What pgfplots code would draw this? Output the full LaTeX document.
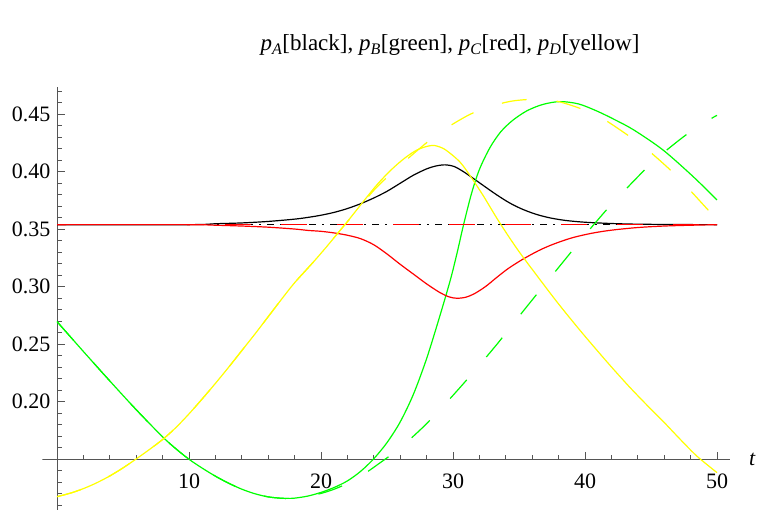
\documentclass[border=0pt]{standalone}
\usepackage{fontspec}
\setmainfont{Liberation Serif}
\usepackage{pgfplots}
\pgfplotsset{compat=1.18}

\definecolor{axgray}{RGB}{85,85,85}
\definecolor{pgreen}{rgb}{0,1,0}
\definecolor{pred}{rgb}{1,0,0}
\definecolor{pyellow}{rgb}{1,1,0}

\begin{document}
\begin{tikzpicture}
\useasboundingbox (-42.5pt,0pt) rectangle (714.5pt,510pt);
\begin{axis}[
    at={(0pt,0pt)}, anchor=south west,
    scale only axis, width=687.7pt, height=423pt,
    xmin=-1.1, xmax=51, ymin=0.1059, ymax=0.4737,
    axis y line=middle, axis x line=none,
    y axis line style={-, axgray, line width=0.8pt},
    xtick=\empty,
    ytick={0.20,0.25,0.30,0.35,0.40,0.45},
    minor ytick={0.11,0.12,0.13,0.14,0.16,0.17,0.18,0.19,0.21,0.22,0.23,0.24,0.26,0.27,0.28,0.29,0.31,0.32,0.33,0.34,0.36,0.37,0.38,0.39,0.41,0.42,0.43,0.44,0.46,0.47},
    tick align=inside,
    major tick length=7.7pt, minor tick length=4.5pt,
    tick style={axgray, line width=0.8pt},
    yticklabel style={font=\fontsize{22}{26}\selectfont, anchor=east, xshift=-3pt},
    every axis plot/.append style={line width=1.2pt},
    /pgf/number format/.cd, fixed, fixed zerofill, precision=2, assume math mode=true,
]
% x axis at 0.15 with its ticks
\draw[axgray, line width=0.8pt] (axis cs:-1.1,0.15) -- (axis cs:51,0.15);
\pgfplotsinvokeforeach{2,4,6,8,12,14,16,18,22,24,26,28,32,34,36,38,42,44,46,48}{
    \draw[axgray, line width=0.8pt] (axis cs:#1,0.15) -- ++(0pt,4.5pt);
}
\pgfplotsinvokeforeach{10,20,30,40,50}{
    \draw[axgray, line width=0.8pt] (axis cs:#1,0.15) -- ++(0pt,7.7pt);
    \node[anchor=base, font=\fontsize{22}{26}\selectfont] at (axis cs:#1,0.125) {#1};
}

% p_A
\addplot[black, smooth] coordinates {
    (0,0.354) (10,0.354) (12,0.3548) (14,0.3555) (16,0.3568) (18,0.3588)
    (19,0.3603) (20,0.3622) (21,0.3647) (22,0.368) (23,0.3722) (24,0.3772)
    (25,0.383) (26,0.39) (27,0.397) (28,0.4025) (28.7,0.405) (29.4,0.406)
    (30.1,0.4045) (30.8,0.400) (31.5,0.3945) (32.3,0.388) (33.3,0.380)
    (34.3,0.3728) (35.3,0.3672) (36.3,0.363) (37.3,0.360) (38.5,0.3577)
    (40,0.3561) (42,0.355) (44,0.3544) (47,0.3541) (50,0.354)
};
\addplot[black, dash pattern=on 7pt off 6pt on 2pt off 6pt] coordinates {
    (0,0.354) (50,0.354)
};
% p_B
\addplot[pgreen, smooth] coordinates {
    (0,0.2697) (2,0.2437) (4,0.2181) (6,0.1931) (8,0.1695) (9,0.1592)
    (10,0.150) (11,0.1423) (12,0.1353) (13,0.1292) (14,0.124) (15,0.120)
    (16,0.1173) (17,0.1161) (17.5,0.116) (18,0.1162) (19,0.118) (20,0.1212)
    (21,0.1255) (22,0.1312) (23,0.1395) (24,0.1505) (25,0.1645) (26,0.1825)
    (27,0.2065) (28,0.2375) (29,0.2745) (29.8,0.306) (30.3,0.329) (30.8,0.354)
    (31.4,0.381) (32,0.402) (32.8,0.421) (33.6,0.4345) (34.5,0.4445)
    (35.6,0.453) (36.8,0.4585) (38.1,0.461) (39.5,0.459) (40.9,0.4528)
    (42.3,0.445) (43.7,0.4363) (45.9,0.419) (48.2,0.3957) (50,0.3755)
};
\addplot[pgreen, smooth, dash pattern=on 25pt off 30pt] coordinates {
    (0,0.2697) (2,0.2437) (4,0.2181) (6,0.1931) (8,0.1695) (9,0.1592)
    (10,0.150) (11,0.1423) (12,0.1353) (13,0.1292) (14,0.124) (15,0.120)
    (16,0.1173) (17,0.1161) (17.5,0.116) (18,0.1162) (19,0.1178) (20,0.1203)
    (21,0.124) (22.2,0.130) (23.3,0.1375) (24.3,0.1455) (25.9,0.159)
    (27.6,0.1765) (29,0.193) (30.5,0.212) (31.9,0.2305) (33.4,0.251)
    (34.6,0.2685) (36.1,0.290) (37.2,0.3055) (38.9,0.3295) (40,0.345)
    (41.6,0.3665) (42.9,0.3825) (44.6,0.4025) (46.1,0.418) (48,0.435)
    (49.6,0.4465) (50,0.449)
};
% p_C
\addplot[pred, smooth] coordinates {
    (0,0.354) (10,0.354) (12,0.3535) (14,0.3528) (16,0.3518) (18,0.3502)
    (19,0.349) (20,0.3482) (21,0.3468) (22,0.3448) (23,0.3418) (24,0.3365)
    (25,0.3285) (26,0.3195) (27,0.311) (28,0.3025) (29,0.295) (29.7,0.2912)
    (30.3,0.290) (31,0.291) (31.7,0.2945) (32.5,0.3005) (33.3,0.308)
    (34.2,0.316) (35.3,0.324) (36.5,0.3315) (37.6,0.337) (39,0.3425)
    (40.5,0.3465) (42,0.3492) (44,0.3515) (46,0.3528) (48,0.3535) (50,0.354)
};
\addplot[pred, dash pattern=on 26pt off 30pt] coordinates {
    (0,0.354) (50,0.354)
};
% p_D
\addplot[pyellow, smooth] coordinates {
    (0,0.1175) (1,0.1205) (2,0.1245) (3,0.1295) (4,0.1355) (5,0.1425)
    (6,0.1503) (7,0.1585) (8,0.1672) (9,0.1775) (10,0.1895) (11,0.2025)
    (12,0.216) (13,0.230) (14,0.2445) (15,0.259) (16,0.274) (17,0.289)
    (18,0.3035) (19.42,0.3215) (20.4,0.3345) (21.3,0.347) (22.3,0.361)
    (23.3,0.3755) (24.3,0.3895) (25.3,0.4015) (26.3,0.4115) (27.2,0.4185)
    (28,0.422) (28.6,0.4228) (29.3,0.420) (30,0.414) (30.6,0.4075)
    (31.3,0.3965) (32.3,0.379) (33.3,0.360) (34.2,0.344) (35.1,0.329)
    (36.6,0.306) (38,0.285) (39.6,0.2624) (41,0.2435) (42.1,0.229)
    (43.4,0.2125) (44.7,0.197) (46,0.182) (47.2,0.1675) (48.5,0.1525) (50,0.1384)
};
\addplot[pyellow, smooth, dash pattern=on 25pt off 30pt] coordinates {
    (0,0.1175) (1,0.1205) (2,0.1245) (3,0.1295) (4,0.1355) (5,0.1425)
    (6,0.1503) (7,0.1585) (8,0.1672) (9,0.1775) (10,0.1895) (11,0.2025)
    (12,0.216) (13,0.230) (14,0.2445) (15,0.259) (16,0.274) (17,0.289)
    (18,0.3035) (19.42,0.3215) (20.4,0.3345) (21.3,0.347) (22.3,0.3605)
    (23.3,0.3745) (24.3,0.3875) (25.8,0.4035) (27.5,0.4205) (29.1,0.435)
    (31.2,0.4494) (32.9,0.457) (34.5,0.4615) (36.2,0.463) (37.8,0.4615)
    (39.6,0.4552) (41.3,0.4465) (43.4,0.4305) (44.8,0.4185) (46.7,0.399)
    (47.95,0.384) (49.7,0.362) (50,0.358)
};
\end{axis}
\node[anchor=base, font=\fontsize{22}{26}\selectfont] at (710pt,44pt) {\textit{t}};
\node[font=\fontsize{23}{27}\selectfont] at (407.5pt,465pt)
    {\textit{p}\textsubscript{\textit{A}}[black], \textit{p}\textsubscript{\textit{B}}[green], \textit{p}\textsubscript{\textit{C}}[red], \textit{p}\textsubscript{\textit{D}}[yellow]};
\end{tikzpicture}
\end{document}
